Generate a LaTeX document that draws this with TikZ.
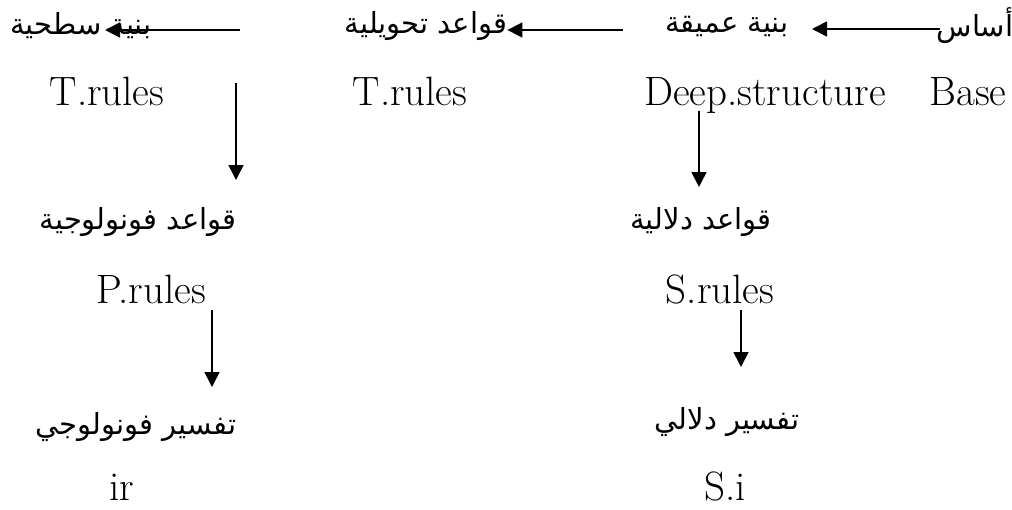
\documentclass[tikz,border=0pt]{standalone}
\usepackage{fontspec}
\TeXXeTstate=1
\newfontfamily\arabicfont[Script=Arabic]{DejaVu Sans}
\usetikzlibrary{arrows.meta}

\tikzset{
  ar/.style={font=\arabicfont\fontsize{29}{32}\selectfont, inner sep=0pt},
  lat/.style={font=\fontsize{41}{44}\selectfont, inner sep=0pt, anchor=base},
  flow/.style={-{Triangle[length=15pt,width=15pt]}, line width=1.6pt}
}

\begin{document}
\begin{tikzpicture}[x=1pt,y=-1pt]
\useasboundingbox (0,0) rectangle (1012,509);

% top row: Arabic labels
\node[ar] (surf)   at (81,26)  {\beginR بنية سطحية\endR};
\node[ar] (trans)  at (426,26) {\beginR قواعد تحويلية\endR};
\node[ar] (deep)   at (727,26) {\beginR بنية عميقة\endR};
\node[ar] (base)   at (975,26) {\beginR أساس\endR};

% second row: English terms
\node[lat] (tr1)  at (107,105) {T.rules};
\node[lat] (tr2)  at (410,105) {T.rules};
\node[lat] (ds)   at (765,105) {Deep.structure};
\node[lat] (bs)   at (968,105) {Base};

% phonological branch
\node[ar]  (phr)  at (138,222) {\beginR قواعد فونولوجية\endR};
\node[lat] (pr)   at (151,303) {P.rules};
\node[ar]  (phi)  at (136,427) {\beginR تفسير فونولوجي\endR};
\node[lat] (ir)   at (122,500) {ir};

% semantic branch
\node[ar]  (smr)  at (701,222) {\beginR قواعد دلالية\endR};
\node[lat] (sr)   at (720,303) {S.rules};
\node[ar]  (smi)  at (727,422) {\beginR تفسير دلالي\endR};
\node[lat] (si)   at (725,500) {S.i};

% horizontal arrows of the top row
\coordinate (h1s) at (240,30);
\coordinate (h1e) at (105,30);
\coordinate (h2s) at (623,30);
\coordinate (h3s) at (940,29);
\coordinate (h3e) at (812,29);
\draw[flow] (h1s) -- (h1e);
\draw[flow] (h2s) -- (trans.east |- h2s);
\draw[flow] (h3s) -- (h3e);

% vertical arrows
\coordinate (v1s) at (236,83);
\coordinate (v1e) at (236,180);
\coordinate (v2s) at (699,111);
\coordinate (v2e) at (699,187);
\coordinate (v3s) at (212,310);
\coordinate (v3e) at (212,387);
\coordinate (v4s) at (741,310);
\coordinate (v4e) at (741,367);
\draw[flow] (v1s) -- (v1e);
\draw[flow] (v2s) -- (v2e);
\draw[flow] (v3s) -- (v3e);
\draw[flow] (v4s) -- (v4e);
\end{tikzpicture}
\end{document}
